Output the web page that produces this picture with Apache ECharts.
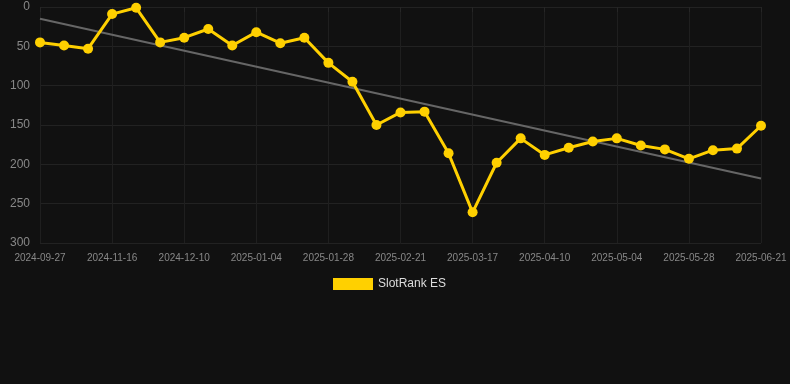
<!DOCTYPE html>
<html>
<head>
<meta charset="utf-8">
<script src="https://cdn.jsdelivr.net/npm/echarts@6/dist/echarts.min.js"></script>
<style>
html,body{margin:0;padding:0;background:#111111;}
#c{width:790px;height:384px;}
</style>
</head>
<body>
<div id="c"></div>
<script>
var categories = ['2024-09-27','2024-10-14','2024-10-31','2024-11-16','2024-11-24','2024-12-02','2024-12-10','2024-12-18','2024-12-26','2025-01-04','2025-01-12','2025-01-20','2025-01-28','2025-02-05','2025-02-13','2025-02-21','2025-03-01','2025-03-09','2025-03-17','2025-03-25','2025-04-02','2025-04-10','2025-04-18','2025-04-26','2025-05-04','2025-05-12','2025-05-20','2025-05-28','2025-06-05','2025-06-13','2025-06-21'];
var rankES = [45,49,53,9,1,45,39,28,49,32,46,39,71,95,150,134,133,186,261,198,167,188,179,171,167,176,181,193,182,180,151];
var trendValues = [15,218];
var yTicks = [0,50,100,150,200,250,300];

var trendData = categories.map(function(c,i){
  if(i===0) return trendValues[0];
  if(i===categories.length-1) return trendValues[1];
  return null;
});

var chart = echarts.init(document.getElementById('c'));
chart.setOption({
  backgroundColor:'#111111',
  animation:false,
  grid:{left:40,right:29,top:7,bottom:141},
  legend:{
    data:['SlotRank ES'],
    top:273,
    left:328,
    itemWidth:40,itemHeight:12,
    icon:'rect',
    textStyle:{color:'#dddddd',fontSize:12,fontFamily:'Arial, Liberation Sans, sans-serif'}
  },
  xAxis:{
    type:'category',
    data:categories,
    boundaryGap:false,
    axisLine:{show:false},
    axisTick:{show:true,interval:2,length:5,lineStyle:{color:'#262626'}},
    splitLine:{show:true,interval:2,lineStyle:{color:'#1f1f1f'}},
    axisLabel:{interval:2,color:'#888888',fontSize:10,margin:10,fontFamily:'Arial, Liberation Sans, sans-serif'}
  },
  yAxis:{
    type:'value',
    inverse:true,
    min:yTicks[0],max:yTicks[yTicks.length-1],interval:50,
    axisLine:{show:false},
    axisTick:{show:false},
    splitLine:{lineStyle:{color:'#222222'}},
    axisLabel:{color:'#888888',fontSize:12,margin:10,fontFamily:'Arial, Liberation Sans, sans-serif'}
  },
  series:[
    {
      name:'Trend',
      type:'line',
      data:trendData,
      connectNulls:true,
      symbol:'none',
      lineStyle:{color:'#666666',width:2},
      z:1
    },
    {
      name:'SlotRank ES',
      type:'line',
      data:rankES,
      symbol:'circle',
      symbolSize:10,
      itemStyle:{color:'#FFD000'},
      lineStyle:{color:'#FFD000',width:3},
      z:2
    }
  ]
});
</script>
</body>
</html>
